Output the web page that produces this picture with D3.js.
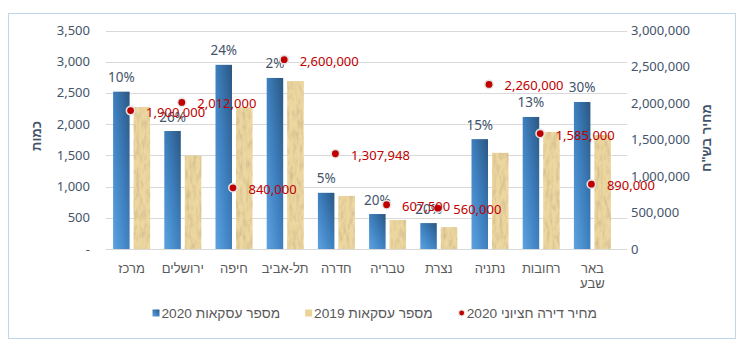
<!DOCTYPE html>
<html>
<head>
<meta charset="utf-8">
<script src="https://cdn.jsdelivr.net/npm/d3@7"></script>
<style>
  body { margin: 0; background: #fff; }
  svg { display: block; }
  text { font-family: "Noto Sans", "Liberation Sans", "DejaVu Sans", sans-serif; }
  .heb { font-family: "Liberation Sans", "DejaVu Sans", sans-serif; }
</style>
</head>
<body>
<svg width="749" height="348"></svg>
<script>
/*------------------------
  ------ VARIABLES -------
  ------------------------*/

// input
var cities = ["מרכז", "ירושלים", "חיפה", "תל-אביב", "חדרה",
              "טבריה", "נצרת", "נתניה", "רחובות", "באר שבע"] ;
var deals_2020 = [2520, 1890, 2950, 2740, 900, 560, 415, 1760, 2115, 2355] ;
var deals_2019 = [2275, 1495, 2270, 2690, 850, 465, 350, 1540, 1875, 1825] ;
var median_price = [1900000, 2012000, 840000, 2600000, 1307948,
                    607500, 560000, 2260000, 1585000, 890000] ;
var change_txt = ["10%", "26%", "24%", "2%", "5%", "20%", "20%", "15%", "13%", "30%"] ;

var left_ticks = [0, 500, 1000, 1500, 2000, 2500, 3000, 3500] ;
var right_ticks = [0, 500000, 1000000, 1500000, 2000000, 2500000, 3000000] ;

var legend_items = [{ref: "price", name: "מחיר דירה חציוני 2020"},
                    {ref: "y2019", name: "מספר עסקאות 2019"},
                    {ref: "y2020", name: "מספר עסקאות 2020"}] ;

// display
var plot = {left: 106, right: 618, top: 30.5, bot: 249, grid_end: 627} ;
var bar = {width: 16.5, gap: 4} ;
var col = {txt: "#44546A", cat: "#595959", grid: "#D9D9D9", red: "#C00000",
           frame: "#BDD7EE"} ;

var svg = d3.select("svg") ;

var x = d3.scaleBand().domain(cities).range([plot.left, plot.right]) ;
var y_left = d3.scaleLinear().domain([0, 3500]).range([plot.bot, plot.top]) ;
var y_right = d3.scaleLinear().domain([0, 3000000]).range([plot.bot, plot.top]) ;
var fmt = d3.format(",") ;

function mid(c) {
    return x(c) + x.bandwidth() / 2 ;
}

/*------------------------
  ------- DEFS -----------
  ------------------------*/

function make_defs() {
    var defs = svg.append("defs") ;

    var g = defs.append("linearGradient")
        .attr("id", "blue")
        .attr("x1", 0).attr("y1", 1)
        .attr("x2", 1).attr("y2", 0) ;
    g.append("stop").attr("offset", "0%").attr("stop-color", "#5CA3E1") ;
    g.append("stop").attr("offset", "50%").attr("stop-color", "#3E7FBE") ;
    g.append("stop").attr("offset", "100%").attr("stop-color", "#2A5782") ;

    // papyrus look for the 2019 bars
    var f = defs.append("filter")
        .attr("id", "papyrus")
        .attr("x", 0).attr("y", 0).attr("width", 1).attr("height", 1) ;
    f.append("feTurbulence")
        .attr("type", "fractalNoise")
        .attr("baseFrequency", "0.3 0.1")
        .attr("numOctaves", 3)
        .attr("seed", 4)
        .attr("result", "noise") ;
    f.append("feColorMatrix")
        .attr("in", "noise")
        .attr("type", "matrix")
        .attr("values", "0 0 0 0 0.6  0 0 0 0 0.47  0 0 0 0 0.25  1.7 0 0 0 -0.68")
        .attr("result", "tint") ;
    f.append("feComposite")
        .attr("in", "tint").attr("in2", "SourceAlpha")
        .attr("operator", "in").attr("result", "tex") ;
    var m = f.append("feMerge") ;
    m.append("feMergeNode").attr("in", "SourceGraphic") ;
    m.append("feMergeNode").attr("in", "tex") ;
}

/*---------------------
  ---- DISPLAY --------
  ---------------------*/

function display_frame() {
    svg.append("rect")
        .attr("x", 8.5).attr("y", 13.5)
        .attr("width", 727).attr("height", 325)
        .attr("fill", "#fff")
        .attr("stroke", col.frame) ;
}

function display_grid() {
    svg.append("g").selectAll("line")
        .data(left_ticks)
        .enter()
        .append("line")
        .attr("x1", plot.left).attr("x2", plot.grid_end)
        .attr("y1", function(d) { return Math.round(y_left(d)) + 0.5 ; })
        .attr("y2", function(d) { return Math.round(y_left(d)) + 0.5 ; })
        .attr("stroke", col.grid) ;

    svg.append("g").selectAll("text")
        .data(left_ticks)
        .enter()
        .append("text")
        .attr("x", 90)
        .attr("y", function(d) { return y_left(d) + 4.5 ; })
        .attr("text-anchor", "end")
        .attr("font-size", 13)
        .attr("fill", col.txt)
        .text(function(d) { return d == 0 ? "-" : fmt(d) ; }) ;

    svg.append("g").selectAll("text")
        .data(right_ticks)
        .enter()
        .append("text")
        .attr("x", 631)
        .attr("y", function(d) { return y_right(d) + 4.5 ; })
        .attr("font-size", 13)
        .attr("fill", col.txt)
        .text(function(d) { return fmt(d) ; }) ;

    // category labels, two lines where the name has a space
    var cat = svg.append("g").selectAll("text")
        .data(cities)
        .enter()
        .append("text")
        .attr("class", "heb")
        .attr("direction", "rtl")
        .attr("text-anchor", "middle")
        .attr("font-size", 13)
        .attr("fill", col.cat) ;
    cat.selectAll("tspan")
        .data(function(c) { return c.indexOf("-") == -1 ? c.split(" ") : [c] ; })
        .enter()
        .append("tspan")
        .attr("x", function() { return mid(d3.select(this.parentNode).datum()) ; })
        .attr("y", function(d, i) { return 272.5 + i * 15 ; })
        .text(function(d) { return d ; }) ;

    // axis titles
    svg.append("text")
        .attr("class", "heb")
        .attr("transform", "translate(41,136) rotate(-90)")
        .attr("text-anchor", "middle")
        .attr("font-size", 13)
        .attr("font-weight", "bold")
        .attr("fill", col.txt)
        .text("כמות") ;
    svg.append("text")
        .attr("class", "heb")
        .attr("transform", "translate(711,138) rotate(-90)")
        .attr("text-anchor", "middle")
        .attr("font-size", 13)
        .attr("font-weight", "bold")
        .attr("fill", col.txt)
        .text("מחיר בש\"ח") ;
}

function display_bars() {
    var g = svg.append("g") ;

    g.selectAll(".b2020")
        .data(cities)
        .enter()
        .append("rect")
        .attr("class", "b2020")
        .attr("x", function(c) { return mid(c) - bar.gap / 2 - bar.width ; })
        .attr("y", function(c, i) { return y_left(deals_2020[i]) ; })
        .attr("width", bar.width)
        .attr("height", function(c, i) { return plot.bot - y_left(deals_2020[i]) ; })
        .attr("fill", "url(#blue)") ;

    g.selectAll(".b2019")
        .data(cities)
        .enter()
        .append("rect")
        .attr("class", "b2019")
        .attr("x", function(c) { return mid(c) + bar.gap / 2 ; })
        .attr("y", function(c, i) { return y_left(deals_2019[i]) ; })
        .attr("width", bar.width)
        .attr("height", function(c, i) { return plot.bot - y_left(deals_2019[i]) ; })
        .attr("fill", "#EDD7A0")
        .attr("filter", "url(#papyrus)") ;

    svg.append("line")
        .attr("x1", plot.left).attr("x2", plot.grid_end)
        .attr("y1", plot.bot + 0.5).attr("y2", plot.bot + 0.5)
        .attr("stroke", col.grid) ;

    g.selectAll(".pct")
        .data(cities)
        .enter()
        .append("text")
        .attr("class", "pct")
        .attr("x", function(c) { return mid(c) - bar.gap / 2 - bar.width / 2 ; })
        .attr("y", function(c, i) { return y_left(deals_2020[i]) - 9.5 ; })
        .attr("text-anchor", "middle")
        .attr("font-size", 13.5)
        .attr("fill", col.txt)
        .text(function(c, i) { return change_txt[i] ; }) ;
}

function display_prices() {
    var g = svg.append("g") ;

    g.selectAll("circle")
        .data(cities)
        .enter()
        .append("circle")
        .attr("cx", function(c) { return mid(c) - 1 ; })
        .attr("cy", function(c, i) { return y_right(median_price[i]) ; })
        .attr("r", 4.2)
        .attr("fill", col.red)
        .attr("stroke", "#E4E4E4")
        .attr("stroke-width", 1.6) ;

    g.selectAll("text")
        .data(cities)
        .enter()
        .append("text")
        .attr("x", function(c) { return mid(c) + 14.5 ; })
        .attr("y", function(c, i) { return y_right(median_price[i]) + 6 ; })
        .attr("font-size", 13)
        .attr("fill", col.red)
        .text(function(c, i) { return fmt(median_price[i]) ; }) ;
}

function display_legend() {
    var g = svg.append("g") ;
    var right = 597 ;
    var ly = 313 ;

    legend_items.forEach(function(it) {
        var t = g.append("text")
            .attr("class", "heb")
            .attr("direction", "rtl")
            .attr("text-anchor", "start")
            .attr("x", right)
            .attr("y", ly + 4.5)
            .attr("font-size", 13.7)
            .attr("fill", col.cat)
            .text(it.name) ;
        var w = t.node().getComputedTextLength() ;
        var mx = right - w - 8 ;
        if (it.ref == "price") {
            g.append("circle")
                .attr("cx", mx + 3).attr("cy", ly)
                .attr("r", 3)
                .attr("fill", col.red)
                .attr("stroke", "#E4E4E4")
                .attr("stroke-width", 1.2) ;
        } else {
            g.append("rect")
                .attr("x", mx - 1).attr("y", ly - 3.5)
                .attr("width", 7).attr("height", 7)
                .attr("fill", it.ref == "y2020" ? "url(#blue)" : "#EBD49A") ;
        }
        right = mx - 26 ;
    }) ;
}

/*------------------
  ------ RUN -------
  ------------------*/

make_defs() ;
display_frame() ;
display_grid() ;
display_bars() ;
display_prices() ;
display_legend() ;
</script>
</body>
</html>
